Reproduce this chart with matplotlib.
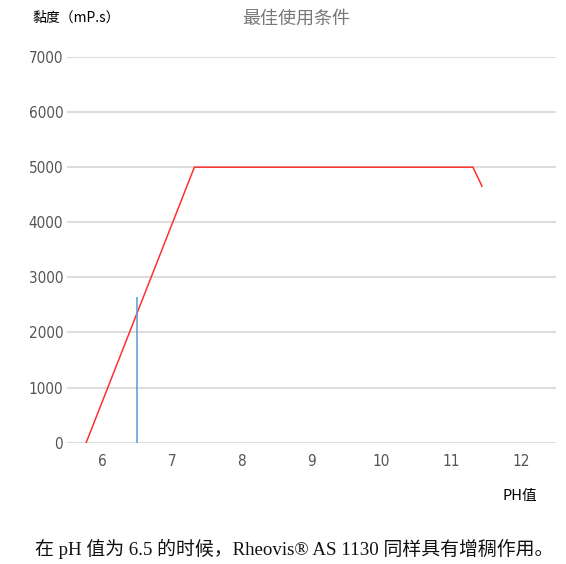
import matplotlib
matplotlib.use("Agg")
import matplotlib.pyplot as plt
from matplotlib import font_manager

# Data
ph_values = [5.77, 7.32, 11.31, 11.44]
viscosity = [0, 5000, 5000, 4655]
marker_ph = 6.5
marker_top = 2640
x_ticks = [6, 7, 8, 9, 10, 11, 12]
y_ticks = [0, 1000, 2000, 3000, 4000, 5000, 6000, 7000]

title = "最佳使用条件"
ylabel = "黏度（mP.s）"
xlabel = "PH值"
caption = "在 pH 值为 6.5 的时候，Rheovis® AS 1130 同样具有增稠作用。"

W, H = 566, 564
fig = plt.figure(figsize=(W / 100, H / 100), dpi=100)
fig.patch.set_facecolor("white")

left, right = 67.3 / W, 556 / W
bottom, top = 1 - 442.7 / H, 1 - 57 / H
ax = fig.add_axes([left, bottom, right - left, top - bottom])

ax.plot(ph_values, viscosity, color="#ff3030", linewidth=1.1, solid_joinstyle="miter", zorder=3)
ax.vlines(marker_ph, 0, marker_top, color="#5b9bd5", linewidth=1.1, zorder=4)

ax.set_xlim(5.5, 12.5)
ax.set_ylim(0, 7000)
ax.set_xticks(x_ticks)
ax.set_yticks(y_ticks)
ax.set_xticklabels([str(v) for v in x_ticks])
ax.set_yticklabels([str(v) for v in y_ticks])

for s in ax.spines.values():
    s.set_visible(False)
ax.grid(axis="y", color="#dddddd", linewidth=1.5, zorder=0)
ax.set_axisbelow(True)

# Prefer a narrow sans for tick labels if available
names = {f.name for f in font_manager.fontManager.ttflist}
if "Liberation Sans Narrow" in names:
    tick_props = dict(family="Liberation Sans Narrow", stretch="normal")
else:
    tick_props = dict(family="DejaVu Sans", stretch="condensed")

ax.tick_params(axis="both", length=0, labelcolor="#555555", labelsize=11)
ax.tick_params(axis="x", pad=8)
ax.tick_params(axis="y", pad=3)
for lab in ax.get_xticklabels() + ax.get_yticklabels():
    lab.set_family(tick_props["family"])
    lab.set_fontstretch(tick_props["stretch"])

cjk = ["Noto Sans CJK SC", "DejaVu Sans"]
fig.text(296 / W, 1 - 19 / H, title, ha="center", va="center",
         fontsize=13, color="#777777", family=cjk)
fig.text(32 / W, 1 - 18 / H, ylabel, ha="left", va="center",
         fontsize=10, color="#000000", family=cjk, weight="medium")
fig.text(520 / W, 1 - 496 / H, xlabel, ha="center", va="center",
         fontsize=10.5, color="#000000", family=cjk, weight="medium")

fig.text(35 / W, 1 - 555 / H, caption, ha="left", va="baseline",
         fontsize=13.6, color="#111111",
         family=["Liberation Serif", "Noto Sans CJK SC", "DejaVu Serif"])

fig.savefig("out.png", dpi=100, facecolor="white")
